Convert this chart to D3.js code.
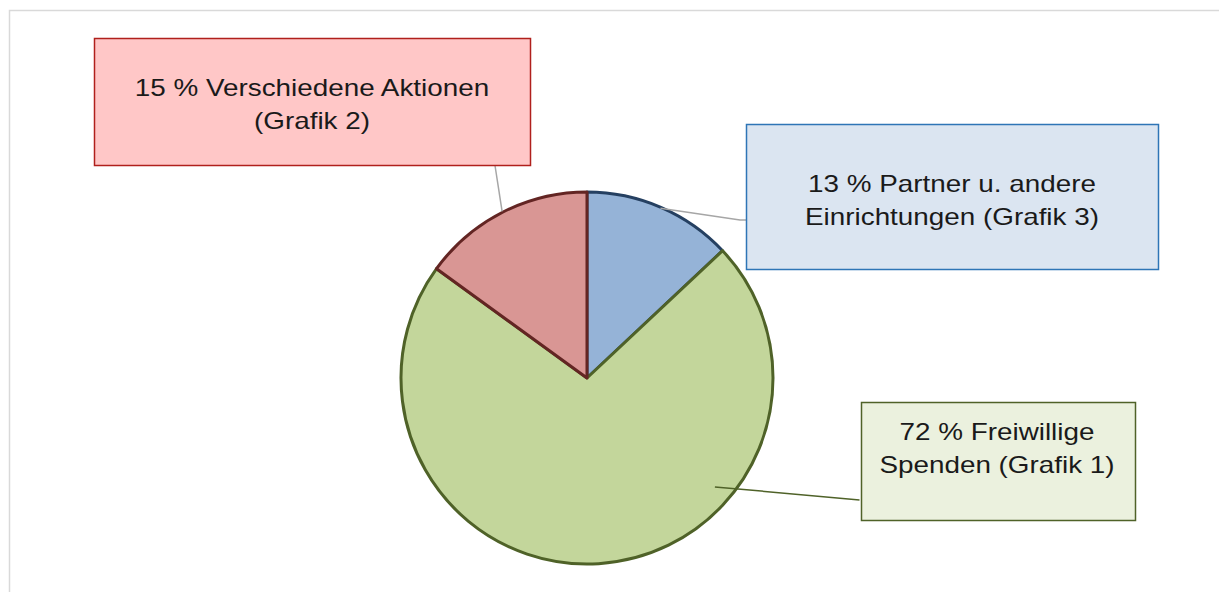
<!DOCTYPE html>
<html><head><meta charset="utf-8">
<script src="https://cdn.jsdelivr.net/npm/d3@7"></script>
<style>html,body{margin:0;padding:0;background:#fff;}svg{display:block;}
text{font-family:'Liberation Sans', Arial, sans-serif;}</style>
</head><body>
<svg id="chart" width="1219" height="592"></svg>
<script>
const categories = ["Partner u. andere Einrichtungen", "Freiwillige Spenden", "Verschiedene Aktionen"];
const values = [13, 72, 15];
const labelLines = [
  ["13 % Partner u. andere", "Einrichtungen (Grafik 3)"],
  ["72 % Freiwillige", "Spenden (Grafik 1)"],
  ["15 % Verschiedene Aktionen", "(Grafik 2)"]
];
const fills = ["#95b3d7", "#c3d69b", "#d99694"];
const strokes = ["#254061", "#4f6228", "#632523"];
const boxFills = ["#dbe5f1", "#ebf1de", "#ffc7c7"];
const boxStrokes = ["#2e75b6", "#4f6228", "#b0201c"];
const leaderColors = ["#a6a6a6", "#4f6228", "#a6a6a6"];

const svg = d3.select("#chart");
svg.append("rect").attr("x", 9.5).attr("y", 10.5).attr("width", 1230).attr("height", 600)
  .attr("fill", "none").attr("stroke", "#d9d9d9").attr("stroke-width", 1.5);

const cx = 587, cy = 378, r = 186;
const pie = d3.pie().sort(null).value(d => d)(values);
const arc = d3.arc().innerRadius(0).outerRadius(r);
const g = svg.append("g").attr("transform", `translate(${cx},${cy})`);
g.selectAll("path").data(pie).enter().append("path")
  .attr("d", arc).attr("fill", (d, i) => fills[i]).attr("stroke", (d, i) => strokes[i])
  .attr("stroke-width", 3).attr("stroke-linejoin", "round");

const boxes = [
  {x: 746.5, y: 124.5, w: 412, h: 145, lx: 952, ly: [184, 217]},
  {x: 861.5, y: 402.5, w: 274, h: 118, lx: 997, ly: [432, 465]},
  {x: 94.5, y: 38.5, w: 436, h: 127, lx: 312, ly: [88, 121]}
];
function edgePoint(d, frac, rr) {
  const a = d.startAngle + (d.endAngle - d.startAngle) * frac;
  return [cx + rr * Math.sin(a), cy - rr * Math.cos(a)];
}
const leaders = [
  [edgePoint(pie[0], 0.5, r - 1), [740, 220], [boxes[0].x, 220]],
  [edgePoint(pie[1], 0.3226, 168), [boxes[1].x - 2, 500]],
  [edgePoint(pie[2], 0.5, r + 1), [495, boxes[2].y + boxes[2].h]]
];
const line = d3.line();
svg.selectAll("path.leader").data(leaders).enter().append("path")
  .attr("class", "leader").attr("d", d => line(d)).attr("fill", "none")
  .attr("stroke", (d, i) => leaderColors[i]).attr("stroke-width", 1.5);

const bg = svg.selectAll("g.box").data(boxes).enter().append("g").attr("class", "box");
bg.append("rect").attr("x", d => d.x).attr("y", d => d.y).attr("width", d => d.w).attr("height", d => d.h)
  .attr("fill", (d, i) => boxFills[i]).attr("stroke", (d, i) => boxStrokes[i]).attr("stroke-width", 1.5);
bg.each(function(d, i) {
  const sel = d3.select(this);
  labelLines[i].forEach((t, j) => {
    sel.append("text").attr("transform", `translate(${d.lx},${d.ly[j] + 8}) scale(1.16,1)`)
      .attr("text-anchor", "middle")
      .attr("font-size", 24).attr("fill", "#1a1a1a").text(t);
  });
});
</script>
</body></html>
